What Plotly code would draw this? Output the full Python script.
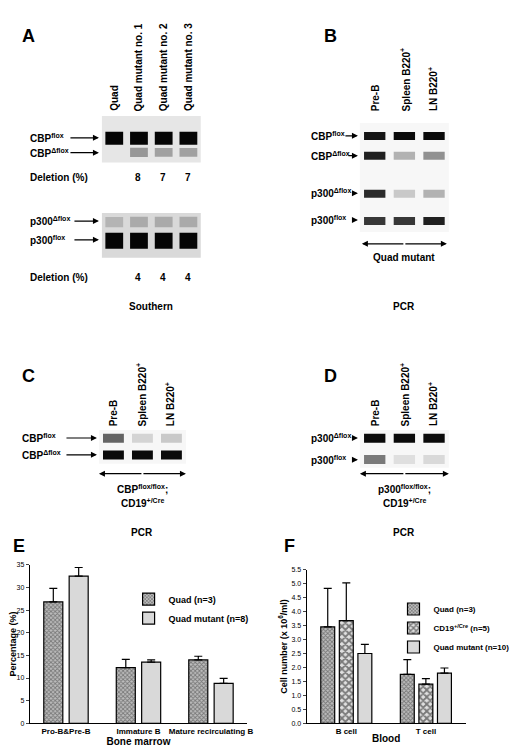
import plotly.graph_objects as go

W, H = 520, 749
def px(x): return x / W
def py(y): return 1 - y / H

# ---------------- data ----------------
e_cats = ["Pro-B&Pre-B", "Immature B", "Mature recirculating B"]
e_quad = [26.8, 12.3, 14.0]
e_quad_err = [3.0, 1.8, 0.8]
e_mut = [32.5, 13.5, 8.8]
e_mut_err = [1.9, 0.5, 1.1]

f_cats = ["B cell", "T cell"]
f_quad = [3.45, 1.75]
f_quad_err = [1.38, 0.53]
f_cd19 = [3.68, 1.40]
f_cd19_err = [1.35, 0.20]
f_mut = [2.50, 1.80]
f_mut_err = [0.33, 0.18]

a_lanes = ["Quad", "Quad mutant no. 1", "Quad mutant no. 2", "Quad mutant no. 3"]
a1_bands = ["CBP<sup>flox</sup>", "CBP<sup>Δflox</sup>"]
a1_int = [[1.0, 1.0, 1.0, 1.0], [0.0, 0.25, 0.2, 0.2]]
a1_del = ["", "8", "7", "7"]
a2_bands = ["p300<sup>Δflox</sup>", "p300<sup>flox</sup>"]
a2_int = [[0.1, 0.15, 0.15, 0.15], [1.0, 1.0, 1.0, 1.0]]
a2_del = ["", "4", "4", "4"]

pcr_lanes = ["Pre-B", "Spleen B220<sup>+</sup>", "LN B220<sup>+</sup>"]
b_bands = ["CBP<sup>flox</sup>", "CBP<sup>Δflox</sup>", "p300<sup>Δflox</sup>", "p300<sup>flox</sup>"]
b_int = [[0.95, 1.0, 1.0], [0.9, 0.25, 0.4], [0.85, 0.15, 0.25], [0.8, 0.8, 0.9]]
c_bands = ["CBP<sup>flox</sup>", "CBP<sup>Δflox</sup>"]
c_int = [[0.6, 0.1, 0.15], [1.0, 1.0, 1.0]]
d_bands = ["p300<sup>Δflox</sup>", "p300<sup>flox</sup>"]
d_int = [[1.0, 1.0, 1.0], [0.5, 0.05, 0.08]]

fig = go.Figure()
ann = []
shapes = []
layout = {}
ax_n = [0]

def new_axes():
    ax_n[0] += 1
    n = ax_n[0]
    s = "" if n == 1 else str(n)
    return n, s

FONT = "Liberation Sans, Arial"

def gel(rect, n_lanes, band_rows, intens, bg, band_w, blob=False):
    x0, y0, x1, y1 = rect
    n, s = new_axes()
    layout["xaxis" + s] = dict(domain=[px(x0), px(x1)], range=[0.5, n_lanes + 0.5],
                               visible=False, anchor="y" + s, fixedrange=True)
    layout["yaxis" + s] = dict(domain=[py(y1), py(y0)], range=[1, 0], visible=False,
                               anchor="x" + s, fixedrange=True)
    shapes.append(dict(type="rect", xref="paper", yref="paper", x0=px(x0), x1=px(x1),
                       y0=py(y1), y1=py(y0), fillcolor=bg, line=dict(width=0), layer="below"))
    for r, yv in enumerate(band_rows):
        for l in range(n_lanes):
            v = intens[r][l]
            if v <= 0:
                continue
            g = int(235 - 225 * v) if not blob else int(200 - 195 * v)
            col = f"rgb({g},{g},{g})"
            half = 0.36
            fig.add_trace(go.Scatter(x=[l + 1 - half, l + 1 + half], y=[yv, yv], mode="lines",
                                     line=dict(color=col, width=band_w * (0.6 + 0.4 * v) if blob else band_w),
                                     xaxis="x" + s, yaxis="y" + s, showlegend=False, hoverinfo="skip"))

def text(x, y, t, size=10, xa="left", ya="middle", angle=0, bold=True):
    ann.append(dict(x=px(x), y=py(y), xref="paper", yref="paper", text=f"<b>{t}</b>" if bold else t,
                    showarrow=False, xanchor=xa, yanchor=ya, textangle=angle,
                    font=dict(size=size, family=FONT, color="black")))

def arrow(x_tail, x_head, y):
    ann.append(dict(x=px(x_head), y=py(y), ax=x_tail - x_head, ay=0, xref="paper", yref="paper",
                    axref="pixel", ayref="pixel", text="", showarrow=True, arrowhead=2,
                    arrowsize=1, arrowwidth=1.2, arrowcolor="black"))

def dbl_arrow(xa_, xb, y):
    arrow((xa_ + xb) / 2, xa_, y)
    arrow((xa_ + xb) / 2, xb, y)

# ---------------- panel A ----------------
text(12, 12, "A", 18, "left", "top")
a_lx = [107, 132, 157, 182]
for x, t in zip(a_lx, a_lanes):
    text(x, 102, t, 10, "center", "bottom", -90)
gel((95, 105, 195, 152), 4, [0.48, 0.78], a1_int, "#e6e6e6", 13, blob=True)
for b, y in zip(a1_bands, [127, 142]):
    text(20, y, b, 10); arrow(62, 92, y)
text(20, 167, "Deletion (%)", 10)
for x, t in zip(a_lx, a1_del):
    text(x, 167, t, 10, "center")
gel((95, 203, 195, 248), 4, [0.2, 0.62], a2_int, "#d9d9d9", 16, blob=True)
for b, y in zip(a2_bands, [211, 230]):
    text(20, y, b, 10); arrow(66, 92, y)
text(20, 268, "Deletion (%)", 10)
for x, t in zip(a_lx, a2_del):
    text(x, 268, t, 10, "center")
text(145, 297, "Southern", 10, "center")

# ---------------- panel B ----------------
text(318, 12, "B", 18, "left", "top")
p_lx_r = [372, 402, 430]
for x, t in zip(p_lx_r, pcr_lanes):
    text(x, 102, t, 10, "center", "bottom", -90)
gel((356, 112, 446, 222), 3, [0.12, 0.3, 0.65, 0.9], b_int, "#f7f7f7", 8)
for b, y, xt in zip(b_bands, [125, 145, 183, 210], [332, 335, 340, 340]):
    text(305, y, b, 10); arrow(xt + 8, 354, y)
dbl_arrow(358, 444, 234)
text(401, 248, "Quad mutant", 10, "center")
text(401, 297, "PCR", 10, "center")

# ---------------- panel C ----------------
text(12, 355, "C", 18, "left", "top")
p_lx_l = [107, 135, 164]
for x, t in zip(p_lx_l, pcr_lanes):
    text(x, 420, t, 10, "center", "bottom", -90)
gel((92, 422, 180, 456), 3, [0.24, 0.74], c_int, "#f7f7f7", 9)
for b, y in zip(c_bands, [430, 447]):
    text(12, y, b, 10); arrow(58, 90, y)
dbl_arrow(92, 180, 466)
text(136, 482, "CBP<sup>flox/flox</sup>;", 10, "center")
text(136, 496, "CD19<sup>+/Cre</sup>", 10, "center")
text(136, 525, "PCR", 10, "center")

# ---------------- panel D ----------------
text(318, 355, "D", 18, "left", "top")
for x, t in zip(p_lx_r, pcr_lanes):
    text(x, 420, t, 10, "center", "bottom", -90)
gel((356, 422, 446, 460), 3, [0.22, 0.78], d_int, "#f7f7f7", 9)
for b, y in zip(d_bands, [430, 452]):
    text(305, y, b, 10); arrow(350, 354, y)
dbl_arrow(356, 446, 466)
text(401, 482, "p300<sup>flox/flox</sup>;", 10, "center")
text(401, 496, "CD19<sup>+/Cre</sup>", 10, "center")
text(401, 525, "PCR", 10, "center")

# ---------------- panel E ----------------
text(3, 527, "E", 18, "left", "top")
n, s = new_axes()
layout["xaxis" + s] = dict(domain=[px(22), px(242)], anchor="y" + s, showline=True, linecolor="black",
                           ticks="", tickfont=dict(size=8, family=FONT, color="black"),
                           title=dict(text="<b>Bone marrow</b>", font=dict(size=10, family=FONT, color="black"), standoff=0))
layout["yaxis" + s] = dict(domain=[py(718), py(558)], anchor="x" + s, range=[0, 35], dtick=5,
                           showline=True, linecolor="black", ticks="outside", ticklen=3, showgrid=False,
                           tickfont=dict(size=7, family=FONT, color="black"),
                           title=dict(text="<b>Percentage (%)</b>", font=dict(size=9, family=FONT, color="black"), standoff=2))
bar_line = dict(color="black", width=1.2)
fig.add_trace(go.Bar(x=[f"<b>{c}</b>" for c in e_cats], y=e_quad, name="<b>Quad (n=3)</b>",
                     marker=dict(color="#bdbdbd", line=bar_line, pattern=dict(shape="x", size=3, solidity=0.5, fgcolor="#333")),
                     error_y=dict(type="data", array=e_quad_err, arrayminus=[0]*3, color="black", thickness=1.2, width=4),
                     xaxis="x" + s, yaxis="y" + s, legend="legend"))
fig.add_trace(go.Bar(x=[f"<b>{c}</b>" for c in e_cats], y=e_mut, name="<b>Quad mutant (n=8)</b>",
                     marker=dict(color="#d9d9d9", line=bar_line),
                     error_y=dict(type="data", array=e_mut_err, arrayminus=[0]*3, color="black", thickness=1.2, width=4),
                     xaxis="x" + s, yaxis="y" + s, legend="legend"))

# ---------------- panel F ----------------
text(277, 527, "F", 18, "left", "top")
n2, s2 = new_axes()
layout["xaxis" + s2] = dict(domain=[px(302), px(463)], anchor="y" + s2, showline=True, linecolor="black",
                            ticks="", tickfont=dict(size=8, family=FONT, color="black"),
                            title=dict(text="<b>Blood</b>", font=dict(size=10, family=FONT, color="black"), standoff=0))
layout["yaxis" + s2] = dict(domain=[py(718), py(563)], anchor="x" + s2, range=[0, 5.5], dtick=0.5,
                            tickformat=".1f", showline=True, linecolor="black", ticks="outside", ticklen=3,
                            showgrid=False, tickfont=dict(size=7, family=FONT, color="black"),
                            title=dict(text="<b>Cell number (x 10<sup>6</sup>/ml)</b>", font=dict(size=9, family=FONT, color="black"), standoff=2))
fx = [f"<b>{c}</b>" for c in f_cats]
for vals, errs, nm, mk in [
    (f_quad, f_quad_err, "<b>Quad (n=3)</b>",
     dict(color="#bdbdbd", line=bar_line, pattern=dict(shape="x", size=3, solidity=0.5, fgcolor="#333"))),
    (f_cd19, f_cd19_err, "<b>CD19<sup>+/Cre</sup> (n=5)</b>",
     dict(color="#e0e0e0", line=bar_line, pattern=dict(shape="x", size=5, solidity=0.6, fgcolor="#111"))),
    (f_mut, f_mut_err, "<b>Quad mutant (n=10)</b>", dict(color="#d9d9d9", line=bar_line)),
]:
    fig.add_trace(go.Bar(x=fx, y=vals, name=nm, marker=mk,
                         error_y=dict(type="data", array=errs, arrayminus=[0]*2, color="black", thickness=1.2, width=4),
                         xaxis="x" + s2, yaxis="y" + s2, legend="legend2"))

fig.update_layout(
    width=W, height=H, margin=dict(l=0, r=0, t=0, b=0),
    paper_bgcolor="white", plot_bgcolor="rgba(0,0,0,0)",
    barmode="group", bargap=0.3, bargroupgap=0.25,
    annotations=ann, shapes=shapes,
    legend=dict(x=px(122), y=py(578), xanchor="left", yanchor="top", bgcolor="rgba(0,0,0,0)",
                font=dict(size=9, family=FONT, color="black"), tracegroupgap=0, itemwidth=30),
    legend2=dict(x=px(390), y=py(588), xanchor="left", yanchor="top", bgcolor="rgba(0,0,0,0)",
                 font=dict(size=8, family=FONT, color="black"), tracegroupgap=0, itemwidth=30),
    **layout,
)
fig.write_html("out.html")
